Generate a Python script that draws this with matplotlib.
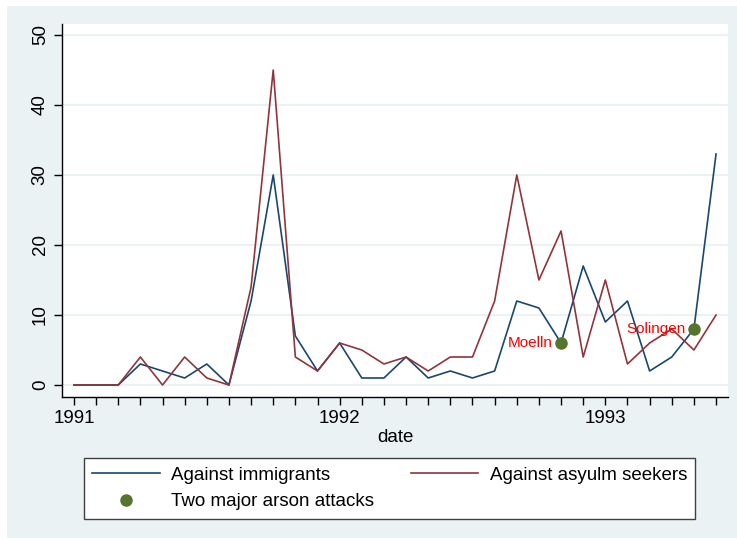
import numpy as np
import matplotlib.pyplot as plt
from matplotlib.patches import Rectangle

plt.rcParams['font.family'] = ['Liberation Sans', 'DejaVu Sans']

# monthly counts, Jan 1991 - Jun 1993
immigrants = [0, 0, 0, 3, 2, 1, 3, 0, 12, 30, 7, 2,
              6, 1, 1, 4, 1, 2, 1, 2, 12, 11, 6, 17,
              9, 12, 2, 4, 8, 33]
asylum = [0, 0, 0, 4, 0, 4, 1, 0, 14, 45, 4, 2,
          6, 5, 3, 4, 2, 4, 4, 12, 30, 15, 22, 4,
          15, 3, 6, 8, 5, 10]
year_labels = ['1991', '1992', '1993']
events = ['Moelln', 'Solingen']
event_month = [22, 28]  # Nov 1992, May 1993

W, H = 737, 540
fig = plt.figure(figsize=(W / 100, H / 100), dpi=100, facecolor='white')
fig.patches.append(Rectangle((7 / W, 2 / H), (W - 7) / W, (H - 8) / H,
                             transform=fig.transFigure, facecolor='#EAF2F3',
                             edgecolor='none', zorder=-10))

ax = fig.add_axes([62 / W, (H - 397) / H, (728 - 62) / W, (397 - 24) / H])
ax.set_facecolor('white')

x = np.arange(len(immigrants))
h1, = ax.plot(x, immigrants, color='#1A476F', lw=1.2, label='Against immigrants')
h2, = ax.plot(x, asylum, color='#90353B', lw=1.2, label='Against asyulm seekers')
ev_y = [immigrants[m] for m in event_month]
h3, = ax.plot(event_month, ev_y, 'o', color='#55752F', ms=8, zorder=5,
              label='Two major arson attacks')
for m, yv, name in zip(event_month, ev_y, events):
    ax.annotate(name, (m, yv), xytext=(-6, 0), textcoords='offset points',
                ha='right', va='center', color='red', fontsize=11)

ax.set_xlim(-0.54, 29.54)
ax.set_ylim(-1.714, 51.57)
ax.set_xticks(x)
ax.set_xticklabels([year_labels[m // 12] if m % 12 == 0 else '' for m in x])
ax.set_yticks(np.arange(0, 51, 10))
ax.tick_params(direction='out', length=6, width=1, labelsize=13.5, colors='black')
ax.tick_params(axis='y', labelrotation=90)
for lbl in ax.get_yticklabels():
    lbl.set_va('center')
ax.yaxis.grid(True, color='#EAF2F3', lw=1.5)
ax.set_axisbelow(True)
for s in ['top', 'right']:
    ax.spines[s].set_visible(False)
for s in ['left', 'bottom']:
    ax.spines[s].set_linewidth(1)
ax.set_xlabel('date', fontsize=13.5, labelpad=1)

leg = fig.legend(handles=[h1, h3, h2], ncol=2, loc='upper left',
                 bbox_to_anchor=(84 / W, 1 - 458 / H), borderaxespad=0,
                 fontsize=13.5, frameon=True, fancybox=False, facecolor='white',
                 framealpha=1, edgecolor='#404040', handlelength=3.6,
                 handletextpad=0.6, columnspacing=1.95, labelspacing=0.5,
                 borderpad=0.45, numpoints=1)
leg.get_frame().set_linewidth(1)

fig.savefig('out.png', dpi=100)
